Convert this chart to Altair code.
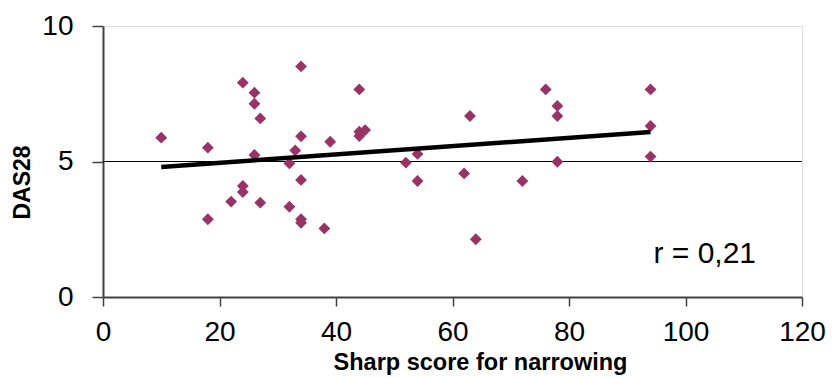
import altair as alt
import pandas as pd

# Data
sharp_score = [10, 18, 18, 22, 24, 24, 24, 26, 26, 26,
               27, 27, 32, 32, 33, 34, 34, 34, 34, 34,
               38, 39, 44, 44, 44, 45, 52, 54, 54, 62,
               63, 64, 72, 76, 78, 78, 78, 94, 94, 94]
das28 = [5.88, 5.51, 2.87, 3.52, 7.91, 4.10, 3.87, 7.54, 7.13, 5.24,
         6.59, 3.48, 3.33, 4.93, 5.41, 8.51, 5.93, 4.32, 2.87, 2.74,
         2.53, 5.73, 7.66, 6.10, 5.94, 6.16, 4.96, 5.28, 4.28, 4.56,
         6.68, 2.13, 4.28, 7.66, 7.05, 6.68, 4.99, 7.66, 6.31, 5.18]
reference_level = [5]
x_ticks = [0, 20, 40, 60, 80, 100, 120]
y_ticks = [0, 5, 10]
annotation_text = ["r = 0,21"]
annotation_x = [94.5]
annotation_y = [1.25]

df = pd.DataFrame({"x": sharp_score, "y": das28})
ref_df = pd.DataFrame({"y": reference_level})
ann_df = pd.DataFrame({"x": annotation_x, "y": annotation_y, "t": annotation_text})

FONT = "Liberation Sans"

xscale = alt.Scale(domain=[0, 120], nice=False, zero=False)
yscale = alt.Scale(domain=[0, 10], nice=False, zero=False)

xaxis = alt.Axis(
    values=x_ticks, title="Sharp score for narrowing", grid=False,
    labelFont=FONT, labelFontSize=28, labelColor="black", labelPadding=12,
    tickSize=9, tickColor="#404040", tickWidth=1.5,
    domainColor="#404040", domainWidth=2,
    titleFont=FONT, titleFontSize=23.5, titleFontWeight="bold", titleColor="black",
    titleX=377, titleY=72, titleBaseline="alphabetic", titleAlign="center",
    labelFlush=False, labelOverlap=False,
)
yaxis = alt.Axis(
    values=y_ticks, title="DAS28", grid=False,
    labelFont=FONT, labelFontSize=28, labelColor="black", labelPadding=19,
    tickSize=11, tickColor="#404040", tickWidth=1.5,
    domainColor="#404040", domainWidth=2,
    titleFont=FONT, titleFontSize=23, titleFontWeight="bold", titleColor="black",
    titleX=-81, titleY=156, titleBaseline="middle", titleAlign="center", titleAngle=270,
    labelFlush=False, labelOverlap=False,
)

points = alt.Chart(df).mark_point(
    shape="diamond", filled=True, color="#993366", size=140, opacity=1
).encode(
    x=alt.X("x:Q", scale=xscale, axis=xaxis),
    y=alt.Y("y:Q", scale=yscale, axis=yaxis),
)

trend = alt.Chart(df).transform_regression("x", "y").mark_line(
    color="black", strokeWidth=4.5
).encode(
    x=alt.X("x:Q", scale=xscale),
    y=alt.Y("y:Q", scale=yscale),
)

ref = alt.Chart(ref_df).mark_rule(color="black", strokeWidth=1).encode(
    y=alt.Y("y:Q", scale=yscale)
)

ann = alt.Chart(ann_df).mark_text(
    font=FONT, fontSize=30, align="left", baseline="alphabetic", color="black"
).encode(
    x=alt.X("x:Q", scale=xscale),
    y=alt.Y("y:Q", scale=yscale),
    text="t:N",
)

chart = alt.layer(ref, points, trend, ann).properties(
    width=699, height=271,
    autosize="none",
    padding={"left": 95, "top": 18, "right": 24, "bottom": 80},
).configure_view(
    stroke="#888888", strokeWidth=2.5
).configure(background="white")

chart.save("out.html", embed_options={"renderer": "svg", "actions": False})
